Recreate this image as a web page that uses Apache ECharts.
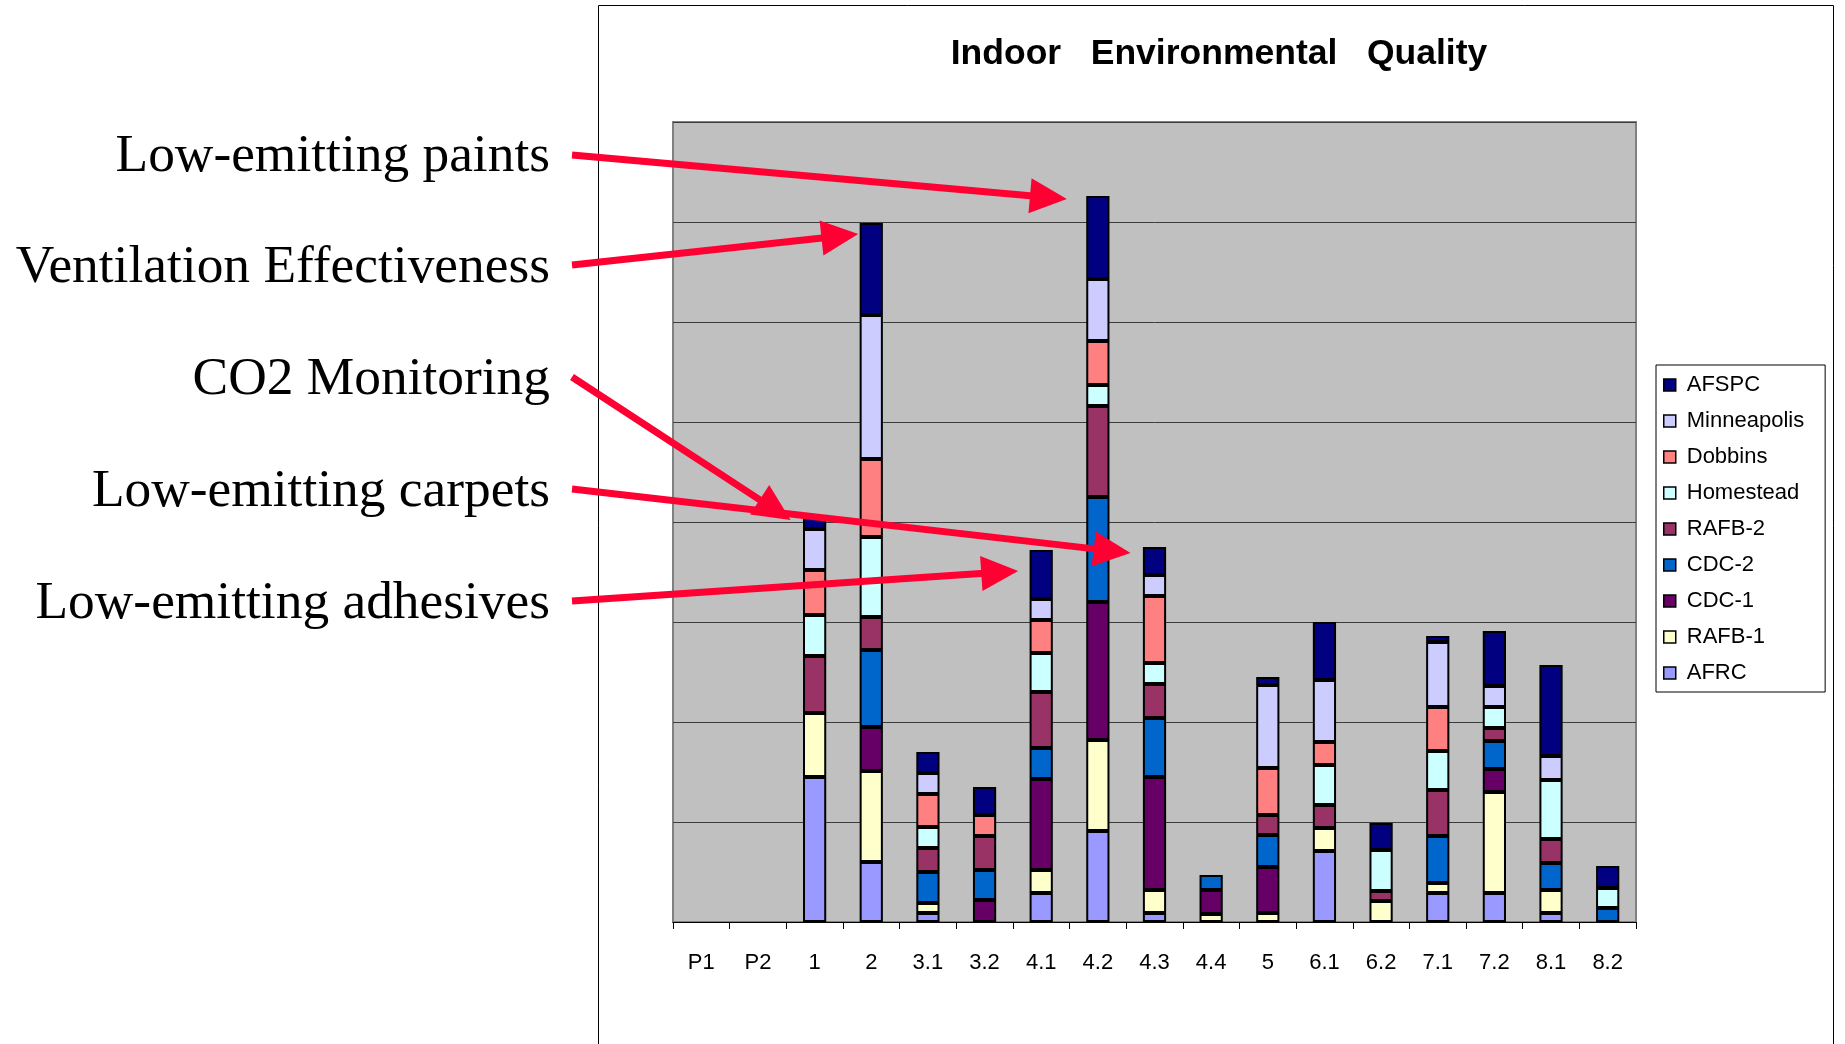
<!DOCTYPE html>
<html><head><meta charset="utf-8">
<script src="https://cdn.jsdelivr.net/npm/echarts@6/dist/echarts.min.js"></script>
<style>html,body{margin:0;padding:0;background:#fff}#c{width:1845px;height:1044px}</style>
</head><body><div id="c"></div>
<script>
// ---- data ----
const categories = ['P1','P2','1','2','3.1','3.2','4.1','4.2','4.3','4.4','5','6.1','6.2','7.1','7.2','8.1','8.2'];
const seriesNames = ['AFRC','RAFB-1','CDC-1','CDC-2','RAFB-2','Homestead','Dobbins','Minneapolis','AFSPC'];
const AFRC        = [null,null,1.45,0.60,0.09,null,0.29,0.91,0.09,null,null,0.71,null,0.29,0.29,0.09,null];
const RAFB1       = [null,null,0.64,0.91,0.10,null,0.23,0.91,0.23,0.08,0.09,0.23,0.21,0.10,1.01,0.23,null];
const CDC1        = [null,null,null,0.44,null,0.22,0.91,1.38,1.13,0.24,0.46,null,null,null,0.23,null,null];
const CDC2        = [null,null,null,0.77,0.31,0.30,0.31,1.05,0.59,0.15,0.32,null,null,0.47,0.28,0.27,0.14];
const RAFB2       = [null,null,0.57,0.33,0.24,0.34,0.56,0.91,0.34,null,0.20,0.23,0.10,0.46,0.13,0.24,null];
const Homestead   = [null,null,0.41,0.80,0.21,null,0.39,0.21,0.21,null,null,0.40,0.41,0.39,0.21,0.59,0.20];
const Dobbins     = [null,null,0.45,0.78,0.33,0.21,0.33,0.44,0.67,null,0.47,0.23,null,0.44,null,null,null];
const Minneapolis = [null,null,0.41,1.44,0.21,null,0.21,0.62,0.21,null,0.83,0.62,null,0.65,0.21,0.24,null];
const AFSPC       = [null,null,0.12,0.92,0.21,0.28,0.49,0.83,0.28,null,0.08,0.58,0.27,0.06,0.55,0.91,0.22];
const seriesData = [AFRC,RAFB1,CDC1,CDC2,RAFB2,Homestead,Dobbins,Minneapolis,AFSPC];
const yTicks = [0,1,2,3,4,5,6,7,8];
const titleText = 'Indoor   Environmental   Quality';
const annotationLabels = ['Low-emitting paints','Ventilation Effectiveness','CO2 Monitoring','Low-emitting carpets','Low-emitting adhesives'];
const annotationTargets = ['4.2','2','1','4.3','4.1'];

// ---- styles ----
const colors = ['#9999FF','#FFFFCC','#660066','#0066CC','#993366','#CCFFFF','#FF8080','#CCCCFF','#000080'];
const arrowRed = '#FF0033';

const chart = echarts.init(document.getElementById('c'), null, {renderer:'canvas'});

const series = seriesNames.map((n,i)=>({
  name:n, type:'bar', stack:'total', data:seriesData[i], barWidth:'41%',
  itemStyle:{color:colors[i], borderColor:'#000', borderWidth:2},
  emphasis:{disabled:true}
}));

chart.setOption({
  animation:false,
  backgroundColor:'#fff',
  grid:{left:673, right:209, top:122, bottom:122, show:true, backgroundColor:'#C0C0C0', borderColor:'#808080', borderWidth:2},
  xAxis:{type:'category', data:categories,
    axisLine:{lineStyle:{color:'#000', width:1}},
    axisTick:{show:true, length:7, lineStyle:{color:'#000'}},
    axisLabel:{fontFamily:'Liberation Sans', fontSize:22, color:'#000', margin:30, interval:0}
  },
  yAxis:{type:'value', min:yTicks[0], max:yTicks[yTicks.length-1], interval:1,
    axisLine:{show:false}, axisTick:{show:false}, axisLabel:{show:false},
    splitLine:{lineStyle:{color:'#3c3c3c', width:1}}
  },
  legend:{orient:'vertical', left:1656, top:365,
    data:seriesNames.slice().reverse(),
    icon:'rect', itemWidth:12, itemHeight:12, itemGap:14,
    padding:[9,21,8,7],
    borderColor:'#000', borderWidth:1, backgroundColor:'#fff',
    itemStyle:{borderColor:'#000', borderWidth:1.5},
    textStyle:{fontFamily:'Liberation Sans', fontSize:22, color:'#000', lineHeight:22, padding:[0,0,0,6]},
    selectedMode:false
  },
  series:series
});

// ---- annotations (arrows anchored to bar tops via the axes) ----
const totals = categories.map((c,j)=>seriesData.reduce((s,a)=>s+(a[j]||0),0));
const tipOffsets = [[-31,3],[-13,11],[-24,3],[-24,6],[-23,21]];
const textX = 550, lineStartX = 572;
const rowMid = [157, 268, 380, 492, 604];
const rowLine = [155, 265, 377, 489, 601];
const g = [];
g.push({type:'rect', z:-10, silent:true, shape:{x:598.5,y:5.5,width:1235,height:1100}, style:{fill:null, stroke:'#000', lineWidth:1}});
g.push({type:'text', z:50, x:1219, y:54, style:{text:titleText, font:'bold 35.5px "Liberation Sans"', fill:'#000', align:'center', verticalAlign:'middle'}});
annotationLabels.forEach((lab,i)=>{
  g.push({type:'text', z:50, x:textX, y:rowMid[i], style:{text:lab, font:'53.4px "Liberation Serif"', fill:'#000', align:'right', verticalAlign:'middle'}});
  const ci = categories.indexOf(annotationTargets[i]);
  const p = chart.convertToPixel({gridIndex:0}, [ci, totals[ci]]);
  const x1 = p[0]+tipOffsets[i][0], y1 = p[1]+tipOffsets[i][1];
  const x0 = lineStartX, y0 = rowLine[i];
  const dx=x1-x0, dy=y1-y0, L=Math.hypot(dx,dy), ux=dx/L, uy=dy/L;
  const hl=37, hw=17.5;
  const bx=x1-ux*hl, by=y1-uy*hl;
  g.push({type:'line', z:60, shape:{x1:x0,y1:y0,x2:bx+ux*3,y2:by+uy*3}, style:{stroke:arrowRed, lineWidth:7}});
  g.push({type:'polygon', z:60, shape:{points:[[x1,y1],[bx-uy*hw,by+ux*hw],[bx+uy*hw,by-ux*hw]]}, style:{fill:arrowRed}});
});
chart.setOption({graphic:g});
</script></body></html>
